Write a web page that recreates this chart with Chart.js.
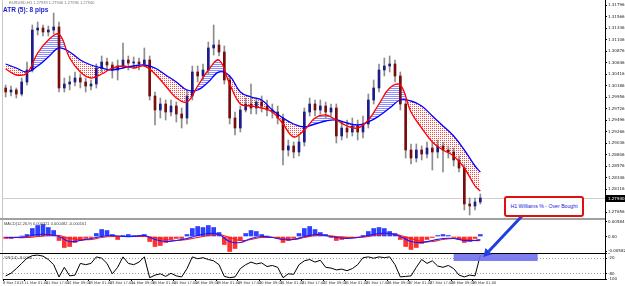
<!DOCTYPE html>
<html><head><meta charset="utf-8">
<script src="https://cdn.jsdelivr.net/npm/chart.js@4.4.0/dist/chart.umd.min.js"></script>
<style>
html,body{margin:0;padding:0;background:#fff;}
#wrap{position:relative;width:625px;height:286px;overflow:hidden;background:#fff;font-family:"Liberation Sans",Arial,sans-serif;}
canvas{position:absolute;left:0;}
#cMain{top:0;z-index:3;pointer-events:none;}
#cMacd{top:220px;z-index:1;}
#cWpr{top:253px;z-index:1;}
.ln{position:absolute;z-index:2;}
.txt{position:absolute;z-index:5;white-space:nowrap;}
#box{position:absolute;z-index:6;left:504px;top:196px;width:80px;height:21px;box-sizing:border-box;border:2px solid #e01010;border-radius:3px;background:#fff;color:#2222dd;font-size:5.2px;line-height:17px;text-align:center;white-space:nowrap;}
</style></head>
<body>
<div id="wrap">
  <div class="ln" style="left:2px;top:0;width:1px;height:280px;background:#c8c8c8"></div>
  <div class="ln" style="left:0;top:218px;width:605px;height:2px;background:#a0a0a0"></div>
  <div class="ln" style="left:0;top:253px;width:605px;height:1px;background:#000"></div>
  <div class="ln" style="left:605px;top:0;width:1px;height:280px;background:#000"></div>
  <canvas id="cMacd" width="625" height="33"></canvas>
  <canvas id="cWpr" width="625" height="33"></canvas>
  <canvas id="cMain" width="625" height="286"></canvas>
  <div class="txt" style="left:9px;top:0px;font-size:4px;color:#777">EURUSD,H1 1.27939 1.27946 1.27936 1.27940</div>
  <div class="txt" style="left:3px;top:6px;font-size:6.5px;font-weight:bold;color:#1a1ac8">ATR (5): 8 pips</div>
  <div class="txt" style="left:4px;top:221px;font-size:4px;color:#444">MACD(12,26,9) 0.000321 0.000482 -0.000161</div>
  <div class="txt" style="left:4px;top:255px;font-size:4px;color:#444">%R(14) -8.0000</div>
  <div id="box">H1 Williams % - Over Bought</div>
</div>
<script>
// ---------- DATA ----------
const opens = [1.3014,1.3006,1.3010,1.3002,1.3026,1.3050,1.3130,1.3134,1.3126,1.3130,
1.3136,1.3014,1.3022,1.3026,1.3034,1.3026,1.3018,1.3022,1.3054,1.3066,
1.3060,1.3050,1.3058,1.3070,1.3064,1.3066,1.3062,1.3070,1.2998,1.2970,
1.2982,1.2966,1.2978,1.2962,1.2954,1.2998,1.3046,1.3038,1.3050,1.3094,
1.3100,1.3086,1.3030,1.2954,1.2934,1.2970,1.2982,1.2974,1.2986,1.2978,
1.2970,1.2966,1.2954,1.2890,1.2898,1.2886,1.2906,1.2966,1.2982,1.2970,
1.2978,1.2966,1.2974,1.2918,1.2934,1.2926,1.2938,1.2926,1.2942,1.2990,
1.3014,1.3050,1.3058,1.3062,1.3038,1.2982,1.2890,1.2874,1.2890,1.2882,
1.2894,1.2886,1.2898,1.2890,1.2886,1.2870,1.2854,1.2782,1.2778,1.2786];
const highs = [1.3020,1.3018,1.3014,1.3034,1.3066,1.3140,1.3146,1.3140,1.3138,1.3164,
1.3146,1.3034,1.3038,1.3046,1.3042,1.3034,1.3030,1.3062,1.3078,1.3074,
1.3066,1.3070,1.3104,1.3078,1.3076,1.3074,1.3094,1.3078,1.3006,1.2994,
1.2990,1.2990,1.2986,1.2974,1.3010,1.3058,1.3058,1.3062,1.3106,1.3140,
1.3110,1.3098,1.3038,1.2966,1.2978,1.2994,1.3022,1.2994,1.2998,1.2990,
1.2982,1.2978,1.2962,1.2910,1.2906,1.2918,1.2974,1.2994,1.2990,1.2990,
1.2986,1.2982,1.2982,1.2946,1.2950,1.2954,1.2950,1.2958,1.3002,1.3030,
1.3062,1.3074,1.3078,1.3070,1.3046,1.2990,1.2902,1.2902,1.2898,1.2906,
1.2906,1.2910,1.2906,1.2898,1.2894,1.2878,1.2862,1.2794,1.2794,1.2802];
const lows = [1.2996,1.2998,1.2994,1.2998,1.3020,1.3046,1.3120,1.3118,1.3118,1.3122,
1.3006,1.3006,1.3010,1.3018,1.3014,1.3006,1.3010,1.3014,1.3046,1.3050,
1.3034,1.3030,1.3054,1.3050,1.3054,1.3050,1.3058,1.2990,1.2940,1.2954,
1.2950,1.2958,1.2946,1.2934,1.2942,1.2990,1.3026,1.3030,1.3042,1.3080,
1.3078,1.3022,1.2942,1.2920,1.2926,1.2966,1.2962,1.2962,1.2966,1.2958,
1.2954,1.2942,1.2860,1.2878,1.2874,1.2878,1.2898,1.2958,1.2958,1.2962,
1.2954,1.2958,1.2904,1.2910,1.2914,1.2918,1.2910,1.2914,1.2934,1.2982,
1.3006,1.3038,1.3046,1.3026,1.2970,1.2874,1.2862,1.2866,1.2870,1.2874,
1.2850,1.2874,1.2846,1.2874,1.2858,1.2846,1.2770,1.2760,1.2770,1.2782];
const closes = [1.3006,1.3010,1.3002,1.3026,1.3050,1.3130,1.3134,1.3126,1.3130,1.3136,
1.3014,1.3022,1.3026,1.3034,1.3026,1.3018,1.3022,1.3054,1.3066,1.3060,
1.3050,1.3058,1.3070,1.3064,1.3066,1.3062,1.3070,1.2998,1.2970,1.2982,
1.2966,1.2978,1.2962,1.2954,1.2998,1.3046,1.3038,1.3050,1.3094,1.3100,
1.3086,1.3030,1.2954,1.2934,1.2970,1.2982,1.2974,1.2986,1.2978,1.2970,
1.2966,1.2954,1.2890,1.2898,1.2886,1.2906,1.2966,1.2982,1.2970,1.2978,
1.2966,1.2974,1.2918,1.2934,1.2926,1.2938,1.2926,1.2942,1.2990,1.3014,
1.3050,1.3058,1.3062,1.3038,1.2982,1.2890,1.2874,1.2890,1.2882,1.2894,
1.2886,1.2898,1.2890,1.2886,1.2870,1.2854,1.2782,1.2778,1.2786,1.2794];
// moving averages, one value every 2 bars (last = final bar)
const maRed = [1.3052,1.3040,1.3044,1.3084,1.3110,1.3122,1.3074,1.3046,1.3034,1.3042,
1.3054,1.3058,1.3054,1.3058,1.3042,1.3018,1.2994,1.2986,1.3018,1.3050,
1.3070,1.3022,1.2982,1.2978,1.2974,1.2966,1.2942,1.2916,1.2930,1.2954,
1.2960,1.2950,1.2938,1.2934,1.2950,1.2982,1.3014,1.3020,1.2966,1.2934,
1.2906,1.2890,1.2878,1.2854,1.2818,1.2808];
const maBlue = [1.3062,1.3054,1.3046,1.3058,1.3076,1.3094,1.3086,1.3070,1.3060,1.3054,
1.3050,1.3054,1.3058,1.3060,1.3054,1.3040,1.3026,1.3010,1.3010,1.3026,
1.3046,1.3038,1.3006,1.2996,1.2990,1.2970,1.2954,1.2942,1.2936,1.2942,
1.2948,1.2950,1.2944,1.2940,1.2946,1.2958,1.2974,1.2990,1.2988,1.2978,
1.2958,1.2938,1.2918,1.2890,1.2858,1.2846];
const macdHist = [-0.0008,-0.0008,-0.0004,0.0002,0.0008,0.0032,0.0044,0.0048,0.0036,0.0024,
-0.0016,-0.0044,-0.0040,-0.0024,-0.0016,-0.0008,-0.0004,0.0012,0.0028,0.0024,
0.0008,-0.0012,0.0004,0.0008,0.0004,0.0004,0.0008,-0.0020,-0.0040,-0.0036,
-0.0024,-0.0012,-0.0008,-0.0008,0.0008,0.0032,0.0040,0.0036,0.0044,0.0036,
0.0016,-0.0032,-0.0060,-0.0048,-0.0016,0.0012,0.0024,0.0020,0.0008,0.0002,
-0.0004,-0.0008,-0.0024,-0.0016,-0.0008,0.0012,0.0032,0.0040,0.0028,0.0016,
0.0008,-0.0004,-0.0016,-0.0012,-0.0008,-0.0004,-0.0002,0.0004,0.0020,0.0032,
0.0036,0.0032,0.0020,0.0012,-0.0012,-0.0040,-0.0052,-0.0044,-0.0028,-0.0012,
-0.0004,0.0004,0.0008,0.0004,-0.0004,-0.0012,-0.0024,-0.0020,-0.0008,0.0008];
const macdMain = [-0.0004,-0.0004,0,0.0008,0.0008,0,-0.0020,-0.0016,-0.0008,0,
0.0004,0,0,0.0004,-0.0012,-0.0020,-0.0016,-0.0008,0.0004,0.0012,
0.0008,-0.0020,-0.0024,-0.0008,0,-0.0004,-0.0012,-0.0012,0,0.0008,
0.0004,-0.0004,-0.0008,-0.0004,0.0004,0.0012,0.0012,0,-0.0020,-0.0024,
-0.0016,-0.0008,-0.0008,-0.0016,-0.0016,-0.0012];
const macdSignal = [-0.0004,-0.0004,-0.0004,0,0.0004,0.0004,-0.0008,-0.0012,-0.0012,-0.0004,
0,0,0,0,-0.0004,-0.0012,-0.0016,-0.0012,-0.0004,0.0004,
0.0008,-0.0004,-0.0016,-0.0012,-0.0004,-0.0004,-0.0008,-0.0012,-0.0004,0.0004,
0.0004,0,-0.0004,-0.0004,0,0.0008,0.0012,0.0004,-0.0008,-0.0020,
-0.0020,-0.0012,-0.0008,-0.0012,-0.0016,-0.0016];
const wpr = [-88,-78,-60,-40,-20,-10,-8,-12,-25,-45,
-92,-55,-88,-85,-40,-45,-40,-15,-20,-40,
-80,-55,-15,-40,-45,-35,-15,-95,-85,-80,
-90,-78,-88,-92,-60,-15,-22,-18,-25,-30,
-45,-90,-95,-92,-60,-45,-35,-42,-38,-52,
-48,-55,-95,-80,-82,-45,-30,-25,-35,-28,
-55,-58,-65,-62,-68,-60,-45,-18,-15,-20,
-15,-18,-15,-45,-92,-90,-88,-55,-25,-40,
-30,-50,-55,-48,-60,-85,-92,-85,-88,-8];
const priceTicks = [1.31796,1.31566,1.31336,1.31106,1.30876,1.30646,1.30416,1.30186,1.29956,
1.29726,1.29496,1.29266,1.29036,1.28806,1.28576,1.28346,1.28116,1.27656];
const macdTicks = [0.00584, 0, -0.00582];
const macdTickLabels = ["0.00584", "0.00", "-0.00582"];
const wprTicks = [0, -20, -80, -100];
const dateTicks = ["8 Mar 2013","11 Mar 01:00","11 Mar 17:00","12 Mar 09:00","13 Mar 01:00","13 Mar 17:00",
"14 Mar 09:00","15 Mar 01:00","15 Mar 17:00","18 Mar 09:00","19 Mar 01:00","19 Mar 17:00","20 Mar 09:00",
"21 Mar 01:00","21 Mar 17:00","22 Mar 09:00","25 Mar 01:00","25 Mar 17:00","26 Mar 09:00","27 Mar 01:00",
"27 Mar 17:00","28 Mar 09:00","29 Mar 01:00"];

// ---------- helpers ----------
const HOURS_PER_BAR = 4, HOURS_PER_LABEL = 16, X_MAX = 451.5;
const barX = i => i * HOURS_PER_BAR + HOURS_PER_BAR / 2;
const maX = k => barX(Math.min(2 * k, closes.length - 1));
const UP = '#1c1c8c', DOWN = '#7a0c0c', WICK = '#8c8c8c';
function pattern(color, w, h, pts) {
  const c = document.createElement('canvas'); c.width = w; c.height = h;
  const g = c.getContext('2d'); g.fillStyle = color;
  pts.forEach(p => g.fillRect(p[0], p[1], 1, 1));
  return g.createPattern(c, 'repeat');
}
const redHatch = pattern('rgba(255,50,50,0.9)', 2, 2, [[0,0]]);
const blueHatch = pattern('rgba(50,50,255,0.55)', 2, 2, [[0,0],[1,0]]);
function noPad(s) { s.paddingTop = 0; s.paddingBottom = 0; s.paddingLeft = 0; s.paddingRight = 0; }
const tickFont = { size: 4, family: 'DejaVu Sans' };
const xHidden = { type: 'linear', min: 0, max: X_MAX, offset: false, display: false, grid: { offset: false } };
Chart.defaults.animation = false;

// ---------- main price chart ----------
const overlay = {
  id: 'overlay',
  beforeDatasetsDraw(chart) {
    const { ctx, chartArea: a, scales: { y } } = chart;
    const py = Math.round(y.getPixelForValue(closes[closes.length - 1])) + 0.5;
    ctx.save(); ctx.strokeStyle = '#cfcfcf'; ctx.lineWidth = 1;
    ctx.beginPath(); ctx.moveTo(a.left, py); ctx.lineTo(a.right, py); ctx.stroke(); ctx.restore();
  },
  afterDraw(chart) {
    const { ctx, chartArea: a, scales: { x, y } } = chart;
    const last = closes[closes.length - 1];
    const py = Math.round(y.getPixelForValue(last));
    ctx.save();
    ctx.fillStyle = '#000'; ctx.fillRect(a.right + 1, py - 3, 19, 7);
    ctx.fillStyle = '#fff'; ctx.font = '4px "DejaVu Sans"'; ctx.textBaseline = 'middle';
    ctx.fillText(last.toFixed(5), a.right + 3, py + 0.5);
    // over-bought zone marker in the %R window
    const zx0 = x.getPixelForValue(barX(84)), zx1 = zx0 + 84;
    ctx.fillStyle = 'rgba(112,112,240,0.9)'; ctx.fillRect(zx0, 254, zx1 - zx0, 7);
    // arrow from note to last %R reading
    const tx = x.getPixelForValue(barX(closes.length - 1)) + 3, ty = 257;
    const sx = 522, sy = 216;
    const dx = tx - sx, dy = ty - sy, L = Math.hypot(dx, dy), ux = dx / L, uy = dy / L;
    const bx = tx - 8 * ux, by = ty - 8 * uy;
    ctx.strokeStyle = '#1f3fe0'; ctx.lineWidth = 3;
    ctx.beginPath(); ctx.moveTo(sx, sy); ctx.lineTo(bx, by); ctx.stroke();
    ctx.fillStyle = '#1f3fe0'; ctx.beginPath();
    ctx.moveTo(tx, ty); ctx.lineTo(bx - 4.5 * uy, by + 4.5 * ux); ctx.lineTo(bx + 4.5 * uy, by - 4.5 * ux);
    ctx.closePath(); ctx.fill();
    ctx.restore();
  }
};
new Chart(document.getElementById('cMain'), {
  type: 'bar',
  data: { datasets: [
    { type: 'line', data: maRed.map((v, k) => ({ x: maX(k), y: v })), borderColor: '#ff0000', borderWidth: 1.3,
      pointRadius: 0, tension: 0.4, fill: { target: 1, above: blueHatch, below: redHatch }, order: 0 },
    { type: 'line', data: maBlue.map((v, k) => ({ x: maX(k), y: v })), borderColor: '#0000ff', borderWidth: 1.3,
      pointRadius: 0, tension: 0.4, fill: false, order: 1 },
    { data: opens.map((o, i) => ({ x: barX(i), y: [o, closes[i]] })), backgroundColor: opens.map((o, i) => closes[i] >= o ? UP : DOWN),
      barThickness: 2, grouped: false, minBarLength: 1, order: 2 },
    { data: highs.map((h, i) => ({ x: barX(i), y: [lows[i], h] })), backgroundColor: WICK, barThickness: 1, grouped: false, order: 3 }
  ] },
  options: {
    responsive: false, devicePixelRatio: 1, animation: false,
    layout: { padding: { left: 3, top: 0, right: 0, bottom: 68 } },
    plugins: { legend: { display: false }, tooltip: { enabled: false }, filler: { drawTime: 'beforeDatasetsDraw' } },
    scales: {
      x: xHidden,
      y: { position: 'right', min: 1.2754, max: 1.3190,
        afterFit(s) { s.width = 20; noPad(s); },
        afterBuildTicks(s) { s.ticks = priceTicks.map(v => ({ value: v })); },
        grid: { drawOnChartArea: false, tickLength: 2, tickColor: '#000' },
        border: { display: true, color: '#000' },
        ticks: { autoSkip: false, padding: 1, color: '#222', font: tickFont, callback: v => v.toFixed(5) } }
    }
  },
  plugins: [overlay]
});

// ---------- MACD ----------
new Chart(document.getElementById('cMacd'), {
  type: 'bar',
  data: { datasets: [
    { type: 'line', data: macdMain.map((v, k) => ({ x: maX(k), y: v })), borderColor: '#1a1aff', borderWidth: 1.2, pointRadius: 0, tension: 0.4, order: 0 },
    { type: 'line', data: macdSignal.map((v, k) => ({ x: maX(k), y: v })), borderColor: '#ff1a1a', borderWidth: 1.2, pointRadius: 0, tension: 0.4, order: 1 },
    { data: macdHist.map((v, i) => ({ x: barX(i), y: v })), backgroundColor: macdHist.map(v => v >= 0 ? '#3040ff' : '#ff3030'),
      barThickness: 4, grouped: false, order: 2 }
  ] },
  options: {
    responsive: false, devicePixelRatio: 1, animation: false,
    layout: { padding: { left: 3, top: 0, right: 0, bottom: 0 } },
    plugins: { legend: { display: false }, tooltip: { enabled: false } },
    scales: {
      x: xHidden,
      y: { position: 'right', min: -0.0066, max: 0.0066,
        afterFit(s) { s.width = 20; noPad(s); },
        afterBuildTicks(s) { s.ticks = macdTicks.map(v => ({ value: v })); },
        grid: { drawOnChartArea: false, tickLength: 2, tickColor: '#000' },
        border: { display: true, color: '#000' },
        ticks: { autoSkip: false, padding: 1, color: '#222', font: tickFont, callback: (v, i) => macdTickLabels[i] } }
    }
  }
});

// ---------- Williams %R ----------
new Chart(document.getElementById('cWpr'), {
  type: 'line',
  data: { datasets: [
    { data: wpr.map((v, i) => ({ x: barX(i), y: v })), borderColor: '#000', borderWidth: 1, pointRadius: 0, tension: 0 }
  ] },
  options: {
    responsive: false, devicePixelRatio: 1, animation: false,
    layout: { padding: { left: 3, top: 0, right: 0, bottom: 0 } },
    plugins: { legend: { display: false }, tooltip: { enabled: false } },
    scales: {
      x: { type: 'linear', min: 0, max: X_MAX, offset: false,
        afterFit(s) { s.height = 7; noPad(s); },
        afterBuildTicks(s) { s.ticks = dateTicks.map((t, k) => ({ value: k * HOURS_PER_LABEL })); },
        grid: { drawOnChartArea: false, tickLength: 2, tickColor: '#000', offset: false },
        border: { display: true, color: '#000' },
        ticks: { autoSkip: false, maxRotation: 0, align: 'start', padding: 0, color: '#333',
          font: { size: 3.6, family: 'DejaVu Sans' }, callback: (v, i) => dateTicks[i] } },
      y: { position: 'right', min: -100, max: 0,
        afterFit(s) { s.width = 20; noPad(s); },
        afterBuildTicks(s) { s.ticks = wprTicks.map(v => ({ value: v })); },
        grid: { drawOnChartArea: true, tickLength: 2, tickColor: '#000',
          color: c => (c.tick && (c.tick.value === -20 || c.tick.value === -80)) ? '#9a9a9a' : 'rgba(0,0,0,0)' },
        border: { display: true, color: '#000', dash: [1, 2] },
        ticks: { autoSkip: false, padding: 1, color: '#222', font: tickFont } }
    }
  }
});
</script>
</body></html>
